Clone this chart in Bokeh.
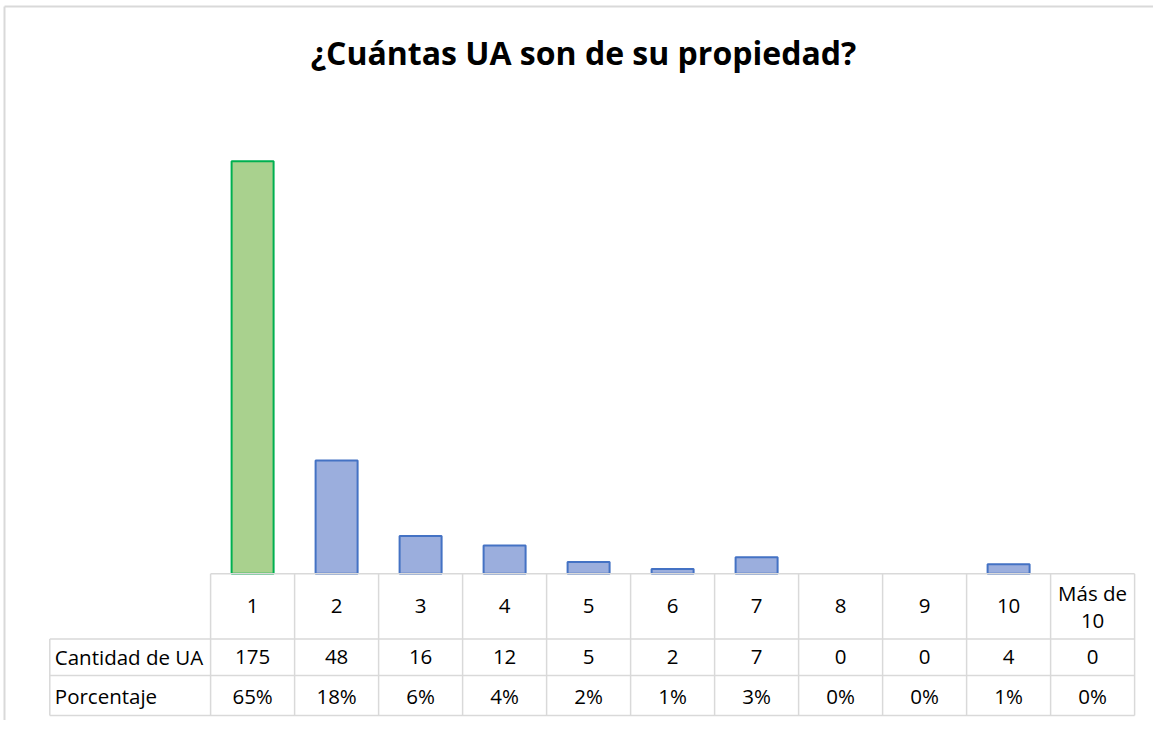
from bokeh.plotting import figure
from bokeh.models import Range1d, ColumnDataSource
from bokeh.core.properties import value
from bokeh.embed import file_html
from bokeh.resources import INLINE

# ---- data ----
categories = ["1", "2", "3", "4", "5", "6", "7", "8", "9", "10", "Más de\n10"]
cantidad = [175, 48, 16, 12, 5, 2, 7, 0, 0, 4, 0]
porcentaje = ["65%", "18%", "6%", "4%", "2%", "1%", "3%", "0%", "0%", "1%", "0%"]
row_labels = ["Cantidad de UA", "Porcentaje"]
title_text = "¿Cuántas UA son de su propiedad?"

# ---- layout (pixels) ----
W, H = 1153, 720
PPU = 2.358         # pixels per unit of value
BASE = 573.3        # baseline pixel (from top)
COL0 = 210.1        # first table column left edge
COLW = 84.0         # column width
LAB0 = 49.3         # label column left edge
ROW_Y = [573.3, 638.5, 675.0, 715.0]
FONT = "Open Sans"
FS = "20.5px"
GRID = "#D9D9D9"

n = len(categories)
p = figure(width=W, height=H,
           x_range=Range1d(-COL0 / COLW, (W - COL0) / COLW),
           y_range=Range1d(-(H - BASE) / PPU, BASE / PPU),
           output_backend="svg", toolbar_location=None,
           x_axis_location=None, y_axis_location=None,
           min_border=0, outline_line_color=None,
           background_fill_color="white", border_fill_color="white")
p.grid.visible = False
p.extra_y_ranges = {"px": Range1d(H, 0)}
p.extra_x_ranges = {"px": Range1d(0, W)}

# ---- chart border (top and left visible) ----
p.segment(x0=[4, 4], y0=[6, 6], x1=[W, 4], y1=[6, H], line_color=GRID,
          line_width=2, x_range_name="px", y_range_name="px")

# ---- bars ----
xs = [i + 0.5 for i in range(n)]
fills = ["#A9D18E"] + ["#9BAEDD"] * (n - 1)
lines = ["#00B050"] + ["#4472C4"] * (n - 1)
lalpha = [1.0 if v > 0 else 0.0 for v in cantidad]
src = ColumnDataSource(dict(x=xs, top=cantidad, fill=fills, line=lines, la=lalpha))
p.vbar(x="x", top="top", bottom=0, width=0.5, source=src,
       fill_color="fill", line_color="line", line_width=2, line_alpha="la")

# ---- table grid ----
right = COL0 + n * COLW
hx0 = [COL0] + [LAB0] * 3
hx1 = [right] * 4
p.segment(x0=hx0, y0=ROW_Y, x1=hx1, y1=ROW_Y, line_color=GRID, line_width=1.5,
          x_range_name="px", y_range_name="px")
vx = [COL0 + i * COLW for i in range(n + 1)] + [LAB0]
vy0 = [ROW_Y[0]] * (n + 1) + [ROW_Y[1]]
vy1 = [ROW_Y[-1]] * (n + 2)
p.segment(x0=vx, y0=vy0, x1=vx, y1=vy1, line_color=GRID, line_width=1.5,
          x_range_name="px", y_range_name="px")

# ---- table text ----
cy = [(ROW_Y[i] + ROW_Y[i + 1]) / 2 for i in range(3)]
txt = dict(text_font=value(FONT), text_font_size=FS, text_color="#000000",
           text_align="center", text_baseline="middle", y_range_name="px")
p.text(x=xs, y=[cy[0]] * n, text=categories, text_line_height=0.94, **txt)
p.text(x=xs, y=[cy[1]] * n, text=[str(v) for v in cantidad], **txt)
p.text(x=xs, y=[cy[2]] * n, text=porcentaje, **txt)
p.text(x=[LAB0 + 5] * 2, y=[cy[1], cy[2]], text=row_labels,
       text_font=value(FONT), text_font_size=FS, text_color="#000000",
       text_align="left", text_baseline="middle",
       x_range_name="px", y_range_name="px")

# ---- title ----
p.text(x=[583], y=[52], text=[title_text], text_font=value(FONT),
       text_font_size="32px", text_font_style="bold", text_color="#000000",
       text_align="center", text_baseline="middle",
       x_range_name="px", y_range_name="px")

open("out.html", "w").write(file_html(p, INLINE))
